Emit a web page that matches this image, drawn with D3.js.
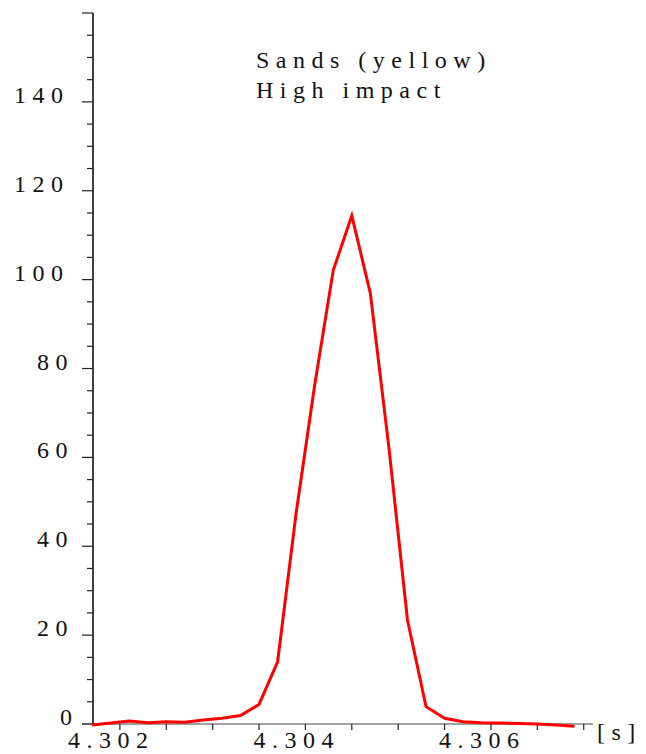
<!DOCTYPE html>
<html><head><meta charset="utf-8">
<script src="https://cdn.jsdelivr.net/npm/d3@7"></script>
<style>
html,body{margin:0;padding:0;background:#fff;}
svg text{font-family:"Liberation Serif","Times New Roman",serif;fill:#111;}
</style></head>
<body>
<svg id="chart" width="646" height="754"></svg>
<script>
// ---- data ----
const times = [4.3017, 4.3019, 4.3021, 4.3023, 4.3025, 4.3027, 4.3029, 4.3031, 4.3033,
  4.3035, 4.3037, 4.3039, 4.3041, 4.3043, 4.3045, 4.3047, 4.3049, 4.3051, 4.3053,
  4.3055, 4.3057, 4.3059, 4.3061, 4.3063, 4.3065, 4.3067, 4.3069];
const values = [-0.2, 0.2, 0.7, 0.3, 0.5, 0.4, 0.9, 1.3, 1.9, 4.4, 14.0, 47.5, 76.3,
  102.1, 114.4, 96.9, 62.2, 23.4, 3.9, 1.3, 0.5, 0.3, 0.2, 0.1, 0.0, -0.2, -0.5];
const yTickLabels = [0, 20, 40, 60, 80, 100, 120, 140];
const yMajorTicks = [0, 20, 40, 60, 80, 100, 120, 140, 160];
const yMinorTicks = [5, 10, 15, 25, 30, 35, 45, 50, 55, 65, 70, 75, 85, 90, 95, 105, 110, 115, 125, 130, 135, 145, 150, 155];
const xTicks = [4.302, 4.3025, 4.303, 4.3035, 4.304, 4.3045, 4.305, 4.3055, 4.306, 4.3065, 4.307];
const xTickLabels = [{v: 4.302, t: "4.302"}, {v: 4.304, t: "4.304"}, {v: 4.306, t: "4.306"}];
const titleLines = ["Sands (yellow)", "High impact"];
const xUnit = "[s]";

// ---- layout ----
const svg = d3.select("#chart");
const x = d3.scaleLinear().domain([4.30171, 4.30710]).range([93, 593]);
const y = d3.scaleLinear().domain([0, 160]).range([724, 13]);
const axisX = x.range()[0];
const ls = "6.5px";
const fs = "24px";

// y axis line
svg.append("line").attr("x1", axisX).attr("x2", axisX)
  .attr("y1", y(160)).attr("y2", y(0))
  .attr("stroke", "#111").attr("stroke-width", 1.6);
// y major ticks
svg.selectAll(".ymaj").data(yMajorTicks).enter().append("line")
  .attr("x1", axisX - 11).attr("x2", axisX)
  .attr("y1", d => y(d)).attr("y2", d => y(d))
  .attr("stroke", "#222").attr("stroke-width", 1.2);
svg.selectAll(".ymin").data(yMinorTicks).enter().append("line")
  .attr("x1", axisX - 6).attr("x2", axisX)
  .attr("y1", d => y(d)).attr("y2", d => y(d))
  .attr("stroke", "#222").attr("stroke-width", 1.2);
// y labels
svg.selectAll(".ylab").data(yTickLabels).enter().append("text")
  .attr("x", d => axisX - 23.5 + 4.5 * (3 - String(d).length))
  .attr("y", d => y(d) + 1)
  .attr("text-anchor", "end")
  .style("font-size", fs).style("letter-spacing", ls)
  .text(d => d);

// x axis line
svg.append("line").attr("x1", axisX - 11).attr("x2", x.range()[1])
  .attr("y1", y(0)).attr("y2", y(0))
  .attr("stroke", "#444").attr("stroke-width", 1.2);
svg.selectAll(".xt").data(xTicks).enter().append("line")
  .attr("x1", d => x(d)).attr("x2", d => x(d))
  .attr("y1", y(0)).attr("y2", y(0) + 6)
  .attr("stroke", "#222").attr("stroke-width", 1.2);
svg.selectAll(".xlab").data(xTickLabels).enter().append("text")
  .attr("x", d => x(d.v) - 52)
  .attr("y", 748)
  .style("font-size", fs).style("letter-spacing", ls)
  .text(d => d.t);
svg.append("text").attr("x", x.range()[1] + 4).attr("y", 740)
  .style("font-size", fs).style("letter-spacing", ls)
  .text(xUnit);

// title
svg.selectAll(".title").data(titleLines).enter().append("text")
  .attr("x", 256).attr("y", (d, i) => 68 + i * 30)
  .style("font-size", fs).style("letter-spacing", ls)
  .text(d => d);

// curve
const line = d3.line().x((d, i) => x(times[i])).y(d => y(d));
svg.append("path").datum(values)
  .attr("d", line)
  .attr("fill", "none").attr("stroke", "#ff0000")
  .attr("stroke-width", 3).attr("stroke-linejoin", "miter");
</script>
</body></html>
